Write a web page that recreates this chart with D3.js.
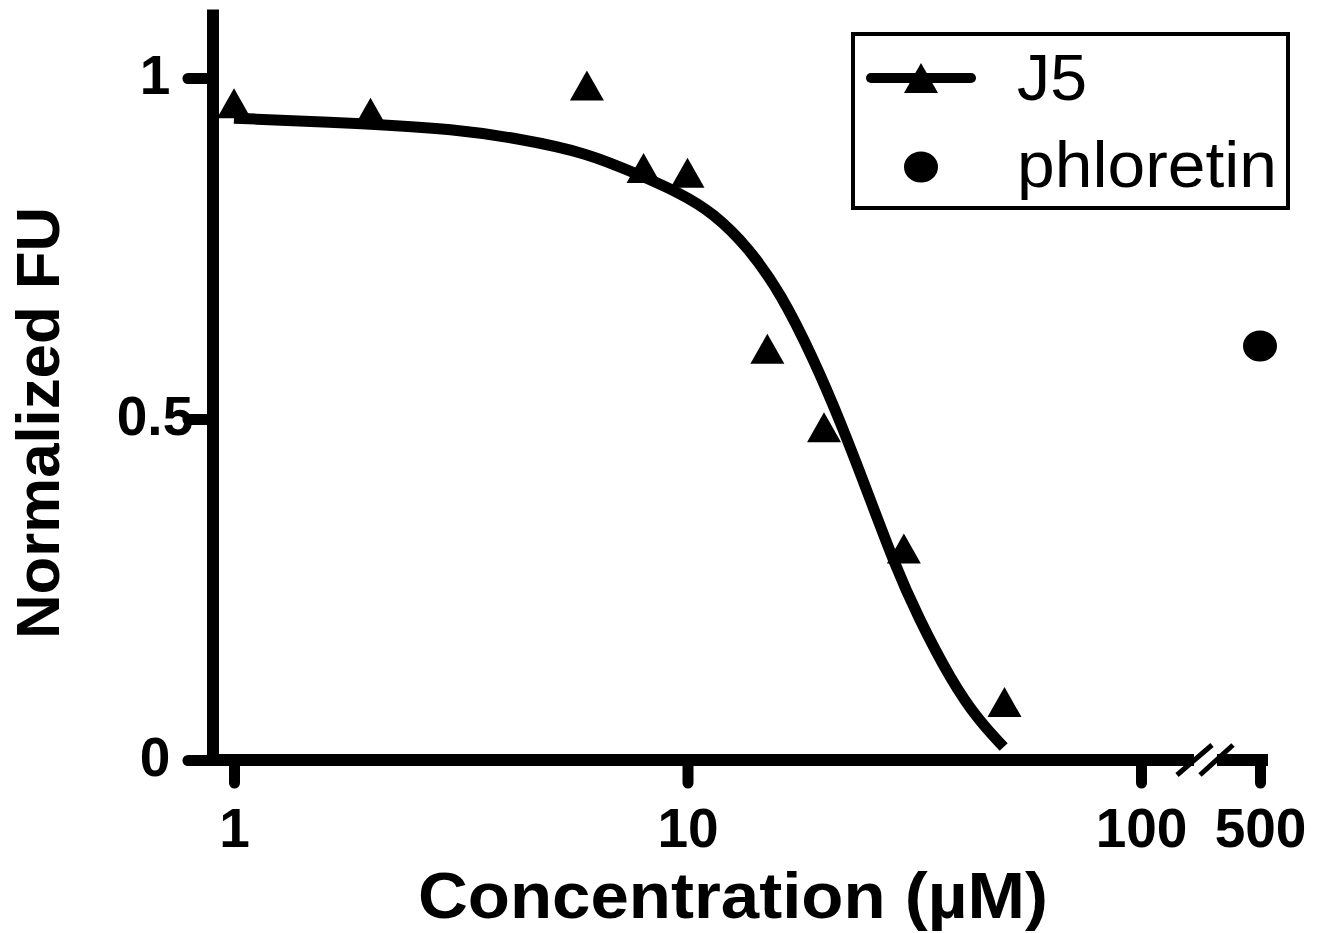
<!DOCTYPE html>
<html><head><meta charset="utf-8">
<script src="https://cdn.jsdelivr.net/npm/d3@7"></script>
<style>body{margin:0;background:#fff} svg{display:block}</style>
</head><body>
<svg id="chart" width="1328" height="933"></svg>
<script>
// ---- data ----
const concJ5 = [1, 2, 6, 8, 10, 15, 20, 30, 50];
const fuJ5 = [0.963, 0.949, 0.989, 0.868, 0.861, 0.603, 0.488, 0.310, 0.085];
// fitted curve of J5
const fitConc = [1, 2, 3.04, 4.28, 6.02, 7.76, 9.65, 11.4, 13.6, 16.05, 19.0, 21.8, 25.0, 28.5, 32.2, 38.1, 43.7, 49.8];
const fitFU = [0.941, 0.933, 0.925, 0.911, 0.890, 0.859, 0.831, 0.802, 0.752, 0.685, 0.587, 0.494, 0.391, 0.290, 0.210, 0.117, 0.059, 0.019];
const concPhloretin = [500];
const fuPhloretin = [0.607];
const xTicks = [1, 10, 100];
const xBreakTicks = [500];
const yTicks = [0, 0.5, 1];
const seriesNames = ["J5", "phloretin"];
const xTitle = "Concentration (\u00B5M)";
const yTitle = "Normalized FU";

const FONT = "'Liberation Sans', Arial, Helvetica, sans-serif";
const svg = d3.select("#chart");

const x = d3.scaleLog().domain([1, 100]).range([234, 1141]);
const xb = d3.scaleLinear().domain([490, 510]).range([1240, 1280]);
const y = d3.scaleLinear().domain([0, 1]).range([760, 78]);

const tickFs = 55;

// ---- x axis (main segment) ----
const gx = svg.append("g").attr("transform", "translate(0,760)")
  .call(d3.axisBottom(x).tickValues(xTicks).tickFormat(d3.format("d")).tickSize(23).tickPadding(25));
// ---- x axis (after break) ----
const gxb = svg.append("g").attr("transform", "translate(0,760)")
  .call(d3.axisBottom(xb).tickValues(xBreakTicks).tickFormat(d3.format("d")).tickSize(23).tickPadding(25));
// ---- y axis ----
const gy = svg.append("g").attr("transform", "translate(213,0)")
  .call(d3.axisLeft(y).tickValues(yTicks).tickFormat(d3.format("~g")).tickSize(25).tickPadding(18));
gy.selectAll(".tick text").attr("dy", "0.28em").attr("x", -58).attr("text-anchor", "middle");

[gx, gxb, gy].forEach(g => {
  g.select(".domain").remove();
  g.selectAll(".tick line").attr("stroke", "#000").attr("stroke-width", 11).attr("stroke-linecap", "round");
  g.selectAll(".tick text").attr("fill", "#000").attr("font-family", FONT)
    .attr("font-weight", "bold").attr("font-size", tickFs);
});

// axis lines
const axes = svg.append("g").attr("stroke", "#000").attr("fill", "none");
axes.append("line").attr("x1", 213).attr("x2", 213).attr("y1", 9.5).attr("y2", 766).attr("stroke-width", 12);
axes.append("line").attr("x1", 207).attr("x2", 1194).attr("y1", 760).attr("y2", 760).attr("stroke-width", 12);
axes.append("line").attr("x1", 1217).attr("x2", 1268).attr("y1", 760).attr("y2", 760).attr("stroke-width", 12);
// break marks
axes.append("line").attr("x1", 1177).attr("y1", 775).attr("x2", 1212).attr("y2", 745).attr("stroke-width", 5);
axes.append("line").attr("x1", 1200).attr("y1", 775).attr("x2", 1233).attr("y2", 745).attr("stroke-width", 5);

// ---- fitted curve ----
const fit = fitConc.map((c, i) => [c, fitFU[i]]);
svg.append("path").datum(fit)
  .attr("fill", "none").attr("stroke", "#000").attr("stroke-width", 11)
  .attr("d", d3.line().x(d => x(d[0])).y(d => y(d[1])).curve(d3.curveBasis));

// ---- J5 points (triangles) ----
const tri = "M0,-15L17,15L-17,15Z";
svg.append("g").selectAll("path").data(concJ5.map((c, i) => [c, fuJ5[i]])).join("path")
  .attr("d", tri).attr("fill", "#000")
  .attr("transform", d => `translate(${x(d[0])},${y(d[1])})`);

// ---- phloretin points (circles) ----
svg.append("g").selectAll("ellipse").data(concPhloretin.map((c, i) => [c, fuPhloretin[i]])).join("ellipse")
  .attr("cx", d => xb(d[0])).attr("cy", d => y(d[1])).attr("rx", 17).attr("ry", 15.5).attr("fill", "#000");

// ---- axis titles ----
svg.append("text").attr("x", 733).attr("y", 918).attr("text-anchor", "middle")
  .attr("font-family", FONT).attr("font-weight", "bold").attr("font-size", 65)
  .attr("textLength", 630).attr("lengthAdjust", "spacingAndGlyphs").text(xTitle);
svg.append("text").attr("transform", "translate(59,423) rotate(-90)").attr("text-anchor", "middle")
  .attr("font-family", FONT).attr("font-weight", "bold").attr("font-size", 61)
  .attr("textLength", 432).attr("lengthAdjust", "spacingAndGlyphs").text(yTitle);

// ---- legend ----
const lg = svg.append("g");
lg.append("rect").attr("x", 853).attr("y", 34).attr("width", 435).attr("height", 174)
  .attr("fill", "#fff").attr("stroke", "#000").attr("stroke-width", 4);
lg.append("line").attr("x1", 871).attr("x2", 971).attr("y1", 78).attr("y2", 78)
  .attr("stroke", "#000").attr("stroke-width", 10).attr("stroke-linecap", "round");
lg.append("path").attr("d", tri).attr("fill", "#000").attr("transform", "translate(921,78)");
lg.append("ellipse").attr("cx", 921).attr("cy", 167).attr("rx", 17).attr("ry", 15.5).attr("fill", "#000");
lg.selectAll("text.lbl").data(seriesNames).join("text").attr("class", "lbl")
  .attr("x", 1017).attr("y", (d, i) => i === 0 ? 100 : 187)
  .attr("font-family", FONT).attr("font-size", 64).attr("fill", "#000")
  .attr("textLength", (d, i) => i === 0 ? 70 : 260).attr("lengthAdjust", "spacingAndGlyphs")
  .text(d => d);
</script>
</body></html>
